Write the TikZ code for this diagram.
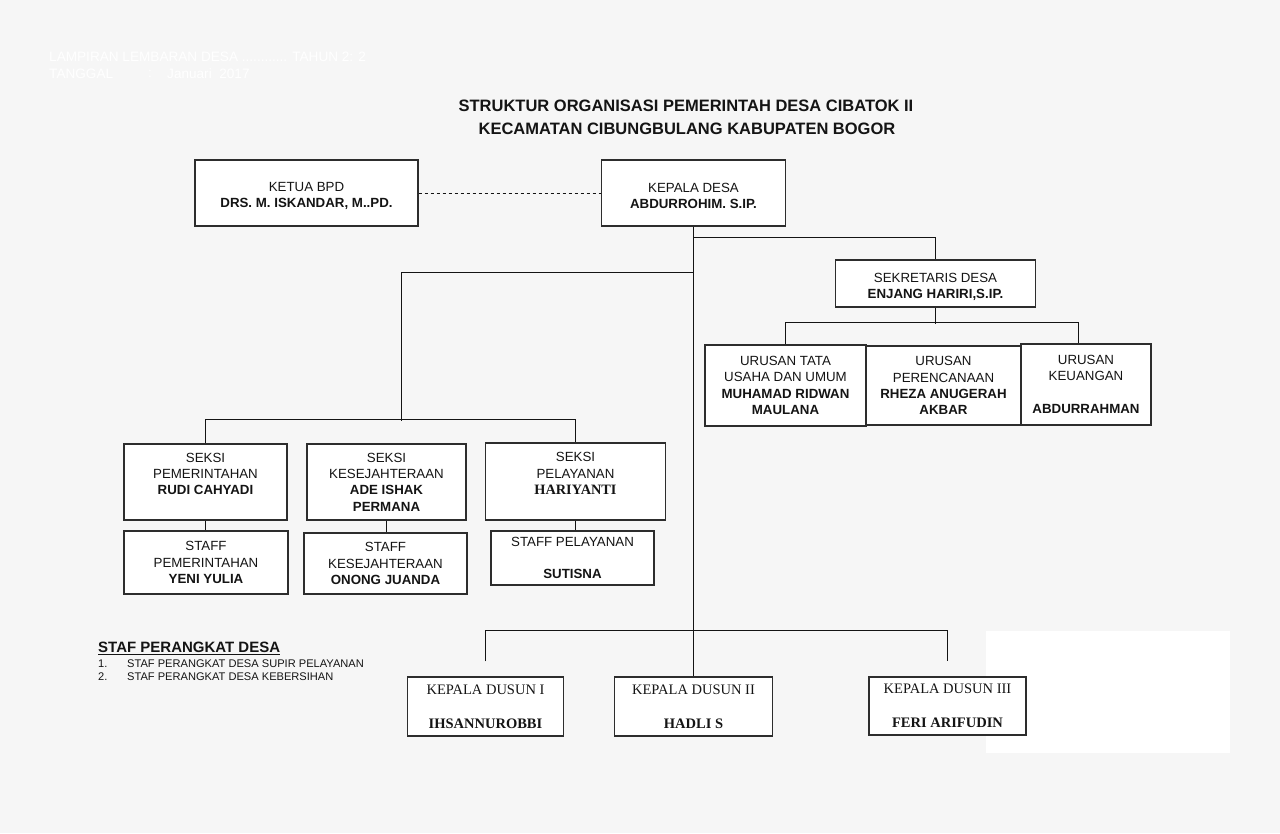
\documentclass[tikz,border=0pt]{standalone}
\usepackage{fontspec}
\setmainfont{Liberation Sans}
\newfontfamily\seriffont{Liberation Serif}
\usetikzlibrary{calc}
\definecolor{bgc}{RGB}{246,246,246}
\definecolor{ink}{RGB}{20,20,20}
\definecolor{edge}{RGB}{45,45,45}
\newcommand{\lowered}[2]{\raisebox{#1}[\height][\depth]{\begin{tabular}{@{}c@{}}#2\end{tabular}}}
\begin{document}
\begin{tikzpicture}[x=1pt,y=-1pt,
  box/.style={draw=edge, line width=1.3pt, fill=white, align=center, inner sep=0pt, text=ink,
    font=\fontsize{13.3}{16.3}\selectfont},
  dbox/.style={box, font=\seriffont\fontsize{14.5}{17}\selectfont},
  conn/.style={draw=ink, line width=1pt},
  plain/.style={inner sep=0pt, text=ink},
  listtext/.style={plain, anchor=west, font=\fontsize{11.1}{13}\selectfont},
  faint/.style={inner sep=0pt, anchor=west, text=white, font=\fontsize{13.6}{16}\selectfont}]
\fill[bgc] (0,0) rectangle (1280,833);
\useasboundingbox (0,0) rectangle (1280,833);
\fill[white] (986,631) rectangle (1230,753);

% faint header
\node[faint] (h1) at (49,57) {LAMPIRAN LEMBARAN DESA ............ TAHUN 2: 2};
\node[faint] (h2) at (49,74) {TANGGAL};
\node[faint] (h3) at (148,74) {:};
\node[faint] (h4) at (167,74) {Januari\ \ 2017};

% title
\node[plain, font=\bfseries\fontsize{16.5}{19}\selectfont] (t1) at (686,106) {STRUKTUR ORGANISASI PEMERINTAH DESA CIBATOK II};
\node[plain, font=\bfseries\fontsize{16.5}{19}\selectfont] (t2) at (687,129) {KECAMATAN CIBUNGBULANG KABUPATEN BOGOR};

% top boxes
\node[box, minimum width=223pt, minimum height=66pt] (bpd) at (306.5,193) {\lowered{-3pt}{KETUA BPD\\\textbf{DRS. M. ISKANDAR, M..PD.}}};
\node[box, minimum width=184pt, minimum height=66pt] (kades) at (693.5,193) {\lowered{-4pt}{KEPALA DESA\\\textbf{ABDURROHIM. S.IP.}}};
\node[box, minimum width=200pt, minimum height=47pt] (sek) at (935.5,283.5) {\lowered{-3.5pt}{SEKRETARIS DESA\\\textbf{ENJANG HARIRI,S.IP.}}};

% urusan
\node[box, minimum width=161pt, minimum height=81pt] (u1) at (785.5,385.5) {URUSAN TATA\\USAHA DAN UMUM\\\textbf{MUHAMAD RIDWAN}\\\textbf{MAULANA}};
\node[box, minimum width=155pt, minimum height=79pt] (u2) at (943.5,385.5) {URUSAN\\PERENCANAAN\\\textbf{RHEZA ANUGERAH}\\\textbf{AKBAR}};
\node[box, minimum width=130pt, minimum height=81pt] (u3) at (1086,384.5) {URUSAN\\KEUANGAN\\\mbox{}\\\textbf{ABDURRAHMAN}};

% seksi
\node[box, minimum width=163pt, minimum height=76pt] (s1) at (205.5,482) {SEKSI\\PEMERINTAHAN\\\textbf{RUDI CAHYADI}\\\mbox{}};
\node[box, minimum width=159pt, minimum height=76pt] (s2) at (386.5,482) {SEKSI\\KESEJAHTERAAN\\\textbf{ADE ISHAK}\\\textbf{PERMANA}};
\node[box, minimum width=180pt, minimum height=77pt] (s3) at (575.5,481.5) {SEKSI\\PELAYANAN\\{\seriffont\bfseries\fontsize{14.3}{16.3}\selectfont HARIYANTI}\\\mbox{}};

% staff
\node[box, minimum width=164pt, minimum height=63pt] (st1) at (206,562.5) {STAFF\\PEMERINTAHAN\\\textbf{YENI YULIA}};
\node[box, minimum width=163pt, minimum height=61pt] (st2) at (385.5,563.5) {STAFF\\KESEJAHTERAAN\\\textbf{ONONG JUANDA}};
\node[box, minimum width=163pt, minimum height=54pt] (st3) at (572.5,558) {STAFF PELAYANAN\\\mbox{}\\\textbf{SUTISNA}};

% dusun
\node[dbox, minimum width=156pt, minimum height=59pt] (d1) at (485.5,706.5) {KEPALA DUSUN I\\\mbox{}\\\textbf{IHSANNUROBBI}};
\node[dbox, minimum width=158pt, minimum height=59pt] (d2) at (693.5,706.5) {KEPALA DUSUN II\\\mbox{}\\\textbf{HADLI S}};
\node[dbox, minimum width=157pt, minimum height=58pt] (d3) at (947.5,706) {KEPALA DUSUN III\\\mbox{}\\\textbf{FERI ARIFUDIN}};

% staf perangkat desa
\node[plain, anchor=west, font=\bfseries\fontsize{15}{18}\selectfont] (sh) at (98,648) {\underline{STAF PERANGKAT DESA}};
\node[listtext] (n1) at (98,664) {1.};
\node[listtext] (l1) at (127,664) {STAF PERANGKAT DESA SUPIR PELAYANAN};
\node[listtext] (n2) at (98,677) {2.};
\node[listtext] (l2) at (127,677) {STAF PERANGKAT DESA KEBERSIHAN};

% connectors
\draw[conn, dash pattern=on 3.5pt off 2.5pt] (bpd.east) -- (kades.west);
\draw[conn] (kades.south) -- (d2.north);
\draw[conn] (kades.south |- 0,237.5) -| (sek.north);
\coordinate (sj) at (401.5,420.5);
\draw[conn] (kades.south |- 0,272.5) -| (sj);
\draw[conn] (s1.north) -- ++(0,-23.5) -| (s3.north);
\draw[conn] (s1.south) -- (s1.south |- st1.north);
\draw[conn] (s2.south) -- (s2.south |- st2.north);
\draw[conn] (s3.south) -- (s3.south |- st3.north);
\draw[conn] (sek.south) -- ++(0,16);
\draw[conn] (u1.north) -- ++(0,-21.5) -| ([xshift=-7.5pt]u3.north);
\draw[conn] ([yshift=15pt]d1.north) -- ++(0,-30.5) -| ([yshift=15pt]d3.north);
\end{tikzpicture}
\end{document}
